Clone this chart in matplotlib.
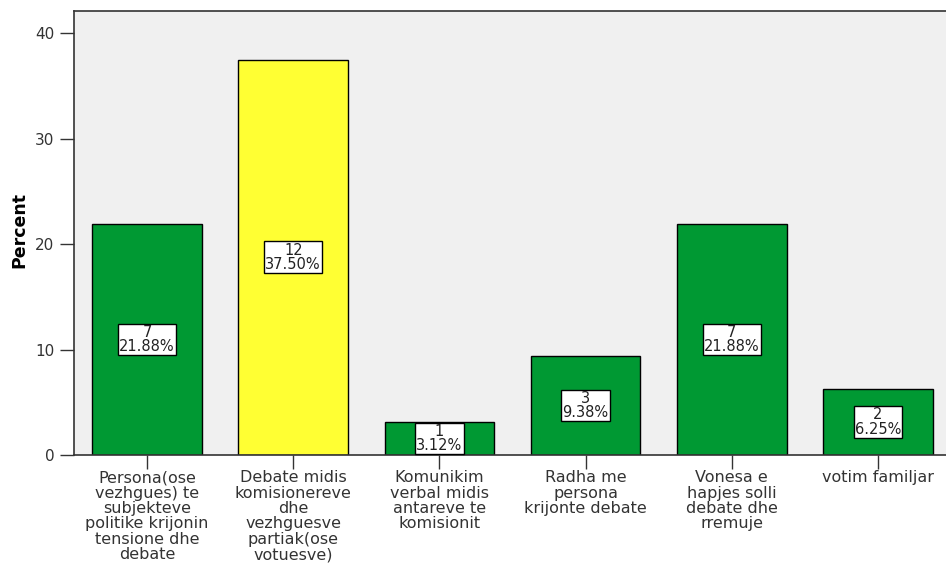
import matplotlib
matplotlib.use("Agg")
import matplotlib.pyplot as plt

categories = [
    "Persona(ose\nvezhgues) te\nsubjekteve\npolitike krijonin\ntensione dhe\ndebate",
    "Debate midis\nkomisionereve\ndhe\nvezhguesve\npartiak(ose\nvotuesve)",
    "Komunikim\nverbal midis\nantareve te\nkomisionit",
    "Radha me\npersona\nkrijonte debate",
    "Vonesa e\nhapjes solli\ndebate dhe\nrremuje",
    "votim familjar",
]
counts = [7, 12, 1, 3, 7, 2]
percents = [21.88, 37.50, 3.12, 9.38, 21.88, 6.25]
colors = ["#009933", "#FFFF33", "#009933", "#009933", "#009933", "#009933"]
yticks = [0, 10, 20, 30, 40]

plt.rcParams['font.family'] = ['DejaVu Sans']

fig = plt.figure(figsize=(9.46, 5.64), dpi=100)
ax = fig.add_axes([74/946, 109/564, (951-74)/946, 444/564])
ax.set_facecolor("#F0F0F0")

x = list(range(len(categories)))
ax.bar(x, percents, width=0.75, color=colors, edgecolor="black", linewidth=1.0, zorder=2)

for xi, c, p in zip(x, counts, percents):
    ax.text(xi, p / 2, f"{c}\n{p:.2f}%", ha="center", va="center", fontsize=10.5,
            linespacing=0.95, color="#222222", zorder=3,
            bbox=dict(boxstyle="square,pad=0.08", facecolor="white", edgecolor="black", linewidth=1.0))

ax.set_xlim(-0.5, 5.5)
ax.set_ylim(0, 42.1)
ax.set_yticks(yticks)
ax.set_yticklabels([str(t) for t in yticks], fontsize=11, color="#333333")
ax.set_xticks(x)
ax.set_xticklabels(categories, fontsize=11.5, color="#333333", linespacing=1.03, va="top")
ax.tick_params(axis="both", direction="out", length=10, width=1.0, color="#333333")
ax.tick_params(axis="x", pad=1)
ax.tick_params(axis="y", pad=4)
ax.set_ylabel("Percent", fontsize=12.5, fontweight="bold", color="black")
ax.yaxis.set_label_coords(-0.052, 0.507)

for s in ax.spines.values():
    s.set_color("#333333")
    s.set_linewidth(1.2)

fig.savefig("out.png", dpi=100)
